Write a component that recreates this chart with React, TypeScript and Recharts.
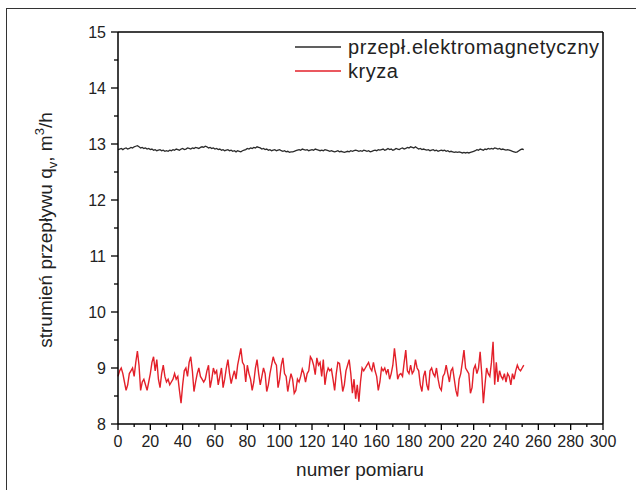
import { Line, LineChart, ReferenceLine, XAxis, YAxis } from 'recharts';

// Przepływomierz elektromagnetyczny (czarna linia)
const EM_VALUES = [
  12.9, 12.91, 12.92, 12.9, 12.92, 12.93, 12.91, 12.92, 12.94, 12.93,
  12.95, 12.96, 12.97, 12.95, 12.93, 12.94, 12.92, 12.93, 12.91, 12.92,
  12.9, 12.91, 12.89, 12.9, 12.88, 12.89, 12.9, 12.88, 12.89, 12.87,
  12.88, 12.87, 12.89, 12.88, 12.9, 12.89, 12.91, 12.9, 12.89, 12.91,
  12.92, 12.9, 12.91, 12.93, 12.92, 12.91, 12.93, 12.92, 12.94, 12.93,
  12.92, 12.94, 12.95, 12.94, 12.96, 12.95, 12.93, 12.94, 12.92, 12.93,
  12.91, 12.92, 12.9, 12.91, 12.89, 12.9, 12.88, 12.89, 12.9, 12.88,
  12.89, 12.87, 12.88, 12.86, 12.88, 12.87, 12.86, 12.88, 12.89, 12.9,
  12.92, 12.91, 12.93, 12.92, 12.94, 12.93, 12.95, 12.94, 12.93, 12.91,
  12.92, 12.9, 12.91, 12.89, 12.9, 12.88, 12.89, 12.9, 12.88, 12.89,
  12.9, 12.88, 12.87, 12.88, 12.86, 12.87, 12.85, 12.86, 12.86, 12.87,
  12.88, 12.89, 12.9, 12.89, 12.91, 12.9, 12.89, 12.9, 12.88, 12.89,
  12.9, 12.89, 12.91, 12.9, 12.89, 12.88, 12.89, 12.88, 12.9, 12.89,
  12.88, 12.87, 12.88, 12.87, 12.86, 12.87, 12.88, 12.86, 12.87, 12.86,
  12.85, 12.86, 12.87, 12.86, 12.88, 12.87, 12.88, 12.89, 12.88, 12.87,
  12.88, 12.87, 12.89, 12.88, 12.87, 12.88, 12.86, 12.87, 12.88, 12.89,
  12.88, 12.9, 12.89, 12.9, 12.91, 12.89, 12.9, 12.92, 12.9, 12.91,
  12.89, 12.9, 12.92, 12.91, 12.9, 12.92, 12.93, 12.91, 12.92, 12.94,
  12.93, 12.95, 12.94, 12.93, 12.95, 12.93, 12.91, 12.92, 12.9, 12.91,
  12.9, 12.89, 12.9, 12.88, 12.89, 12.9, 12.88, 12.89, 12.87, 12.88,
  12.89, 12.88, 12.89, 12.87, 12.88, 12.86, 12.87, 12.86, 12.85, 12.86,
  12.85, 12.86, 12.85, 12.84, 12.85, 12.84, 12.85, 12.84, 12.85, 12.86,
  12.87, 12.88, 12.9, 12.89, 12.91, 12.9, 12.89, 12.91, 12.9, 12.92,
  12.91, 12.92, 12.91, 12.93, 12.92, 12.91, 12.92, 12.9, 12.91, 12.9,
  12.89, 12.9, 12.89, 12.88, 12.87, 12.86, 12.85, 12.86, 12.88, 12.9,
  12.91, 12.9,
];

// Kryza (czerwona linia)
const KRYZA_VALUES = [
  8.85, 8.95, 9.0, 8.9, 8.75, 8.6, 8.7, 8.9, 8.95, 9.0, 8.85,
  9.1, 9.3, 9.05, 8.6, 8.75, 8.8, 8.7, 8.6, 8.75, 8.9,
  9.1, 9.2, 8.95, 9.15, 8.8, 8.65, 8.9, 9.05, 8.85, 8.75,
  8.8, 8.7, 8.75, 8.8, 8.9, 8.8, 8.85, 8.6, 8.37, 8.7,
  8.95, 9.0, 8.85, 9.1, 9.2, 8.95, 8.58, 8.75, 8.9, 9.0,
  8.85, 8.8, 8.75, 8.8, 8.95, 9.05, 8.65, 8.8, 9.0, 8.9,
  8.95, 8.7, 8.85, 9.0, 8.65, 8.8, 9.0, 9.15, 8.9, 8.72,
  8.85, 8.95, 8.8, 9.05, 9.2, 9.35, 9.1, 9.05, 8.75, 9.05,
  8.9, 8.8, 8.6, 8.75, 9.0, 9.15, 8.9, 8.7, 8.85, 9.0,
  8.9, 8.58, 8.7, 8.9, 9.05, 9.2, 9.1, 9.05, 8.65, 8.8,
  9.05, 9.18, 8.9, 8.85, 8.58, 8.75, 8.9, 8.8, 8.55, 8.6,
  8.8, 8.75, 8.85, 8.98, 8.9, 8.75, 8.9, 8.95, 9.2, 9.15,
  9.05, 8.88, 9.18, 9.05, 9.1, 8.85, 9.15, 8.7, 8.9, 9.0,
  8.95, 8.98, 8.8, 8.6, 8.9, 9.1, 9.08, 8.85, 8.58, 8.7,
  8.95, 9.05, 9.15, 8.9, 8.55, 8.8, 8.45, 8.7, 8.4, 8.75,
  9.0, 8.95, 9.0, 9.05, 9.1, 9.0, 8.95, 9.1, 8.95, 8.85,
  8.6, 8.75, 9.0, 8.95, 9.0, 8.9, 8.98, 8.8, 8.9, 9.05,
  9.35, 9.1, 8.8, 8.88, 8.9, 8.85, 9.1, 9.32, 8.95, 8.9,
  9.05, 8.9, 8.95, 9.15, 9.0, 8.95, 8.7, 8.58, 8.85, 8.95,
  8.7, 8.6, 8.95, 9.0, 8.9, 8.85, 9.0, 8.8, 8.65, 8.6,
  8.85, 8.9, 9.05, 8.9, 8.75, 8.95, 9.0, 8.8, 8.6, 8.49,
  8.8, 8.9, 9.1, 9.32, 9.0, 8.95, 8.9, 8.55, 8.65, 8.98,
  9.05, 8.9, 9.0, 9.29, 8.9, 8.37, 8.7, 9.0, 8.9, 8.85,
  9.1, 9.47, 8.7, 9.1, 8.75, 8.95, 8.85, 8.8, 8.9, 8.75,
  8.9, 8.85, 8.7, 8.9, 8.8, 8.95, 9.05, 8.98, 8.95, 9.0,
  9.05,
];

const X_TICKS = [
  0, 10, 20, 30, 40, 50, 60, 70, 80, 90, 100, 110, 120, 130, 140, 150, 160, 170, 180, 190, 200,
  210, 220, 230, 240, 250, 260, 270, 280, 290, 300,
];
const Y_TICKS = [8, 8.5, 9, 9.5, 10, 10.5, 11, 11.5, 12, 12.5, 13, 13.5, 14, 14.5, 15];

const SERIES_NAMES = ['przepł.elektromagnetyczny', 'kryza'];
const SERIES_COLORS = ['#2b2b2b', '#e3202a'];

const chartData = KRYZA_VALUES.map((v, i) => ({
  nr: i,
  em: EM_VALUES[i],
  kryza: v,
}));

const FONT = '"Liberation Sans", Arial, sans-serif';
const PLOT_LEFT = 118;
const PLOT_BOTTOM = 424;

// oś X: duże kreski co 20 z etykietą, małe co 10
function XTick({ x, payload }: any) {
  const v = payload.value;
  const major = v % 20 === 0;
  return (
    <g>
      <line x1={x} x2={x} y1={PLOT_BOTTOM} y2={PLOT_BOTTOM + (major ? 6 : 3)} stroke="#000" strokeWidth={1.3} />
      {major && (
        <text x={x} y={PLOT_BOTTOM + 23} textAnchor="middle" fontSize={16} fill="#222" fontFamily={FONT}>
          {v}
        </text>
      )}
    </g>
  );
}

// oś Y: duże kreski co 1 z etykietą, małe co 0.5
function YTick({ y, payload }: any) {
  const v = payload.value;
  const major = Number.isInteger(v);
  return (
    <g>
      <line x1={PLOT_LEFT} x2={PLOT_LEFT - (major ? 7 : 4)} y1={y} y2={y} stroke="#000" strokeWidth={1.3} />
      {major && (
        <text x={PLOT_LEFT - 12} y={y + 6} textAnchor="end" fontSize={16} fill="#222" fontFamily={FONT}>
          {v}
        </text>
      )}
    </g>
  );
}

function YTitle() {
  return (
    <text
      transform="translate(52, 230) rotate(-90)"
      textAnchor="middle"
      fontSize={19}
      fill="#222"
      fontFamily={FONT}
    >
      strumień przepływu q
      <tspan fontSize={13} dy={5}>v</tspan>
      <tspan dy={-5}>, m</tspan>
      <tspan fontSize={13} dy={-8}>3</tspan>
      <tspan dy={8}>/h</tspan>
    </text>
  );
}

function XTitle() {
  return (
    <text x={360} y={476} textAnchor="middle" fontSize={19} fill="#222" fontFamily={FONT}>
      numer pomiaru
    </text>
  );
}

// legenda jako nakładka HTML, żeby nie zabierała miejsca wykresowi
function LegendBox() {
  return (
    <div
      style={{
        position: 'absolute',
        left: 295,
        top: 35,
        fontFamily: FONT,
        fontSize: 20,
        letterSpacing: 0.55,
        color: '#222',
        lineHeight: '24px',
      }}
    >
      {SERIES_NAMES.map((name, i) => (
        <div key={name} style={{ display: 'flex', alignItems: 'center', height: 24 }}>
          <svg width={46} height={24} style={{ marginRight: 7 }}>
            <line x1={0} x2={46} y1={12} y2={12} stroke={SERIES_COLORS[i]} strokeWidth={1.3} />
          </svg>
          <span>{name}</span>
        </div>
      ))}
    </div>
  );
}

export default function App() {
  return (
    <div style={{ position: 'absolute', left: 0, top: 0, width: 636, height: 490, background: '#fff', overflow: 'hidden' }}>
      {/* ramka obrazka */}
      <div style={{ position: 'absolute', left: 6, top: 8, width: 640, height: 500, borderLeft: '1.5px solid #333', borderTop: '1.5px solid #333' }} />
      <LineChart
        width={636}
        height={490}
        data={chartData}
        margin={{ top: 32, right: 33, bottom: 0, left: 0 }}
        style={{ fontFamily: FONT }}
      >
        <XAxis
          dataKey="nr"
          type="number"
          domain={[0, 300]}
          ticks={X_TICKS}
          interval={0}
          height={66}
          tickLine={false}
          tick={<XTick />}
          axisLine={{ stroke: '#000', strokeWidth: 1.5 }}
          label={<XTitle />}
        />
        <YAxis
          type="number"
          domain={[8, 15]}
          ticks={Y_TICKS}
          interval={0}
          width={118}
          tickLine={false}
          tick={<YTick />}
          axisLine={{ stroke: '#000', strokeWidth: 1.5 }}
          label={<YTitle />}
        />
        {/* górna i prawa krawędź ramki wykresu */}
        <ReferenceLine y={15} stroke="#000" strokeWidth={1.5} />
        <ReferenceLine x={300} stroke="#000" strokeWidth={1.5} />
        <Line
          dataKey="em"
          name={SERIES_NAMES[0]}
          type="linear"
          stroke={SERIES_COLORS[0]}
          strokeWidth={1.3}
          dot={false}
          isAnimationActive={false}
        />
        <Line
          dataKey="kryza"
          name={SERIES_NAMES[1]}
          type="linear"
          stroke={SERIES_COLORS[1]}
          strokeWidth={1.4}
          dot={false}
          isAnimationActive={false}
        />
      </LineChart>
      <LegendBox />
    </div>
  );
}
